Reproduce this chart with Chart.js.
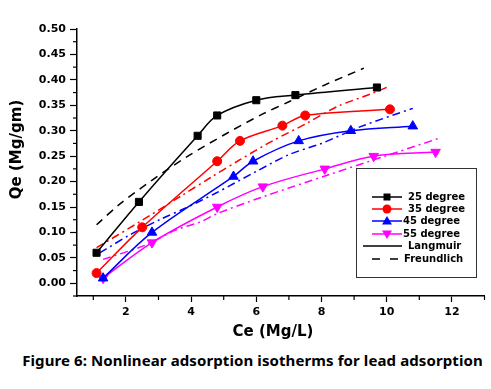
<!DOCTYPE html>
<html lang="en">
<head>
<meta charset="UTF-8" />
<title>Nonlinear adsorption isotherms</title>
<script src="https://cdn.jsdelivr.net/npm/chart.js"></script>
<style>
  body { margin: 0; background: #fff; }
  .wrap { position: relative; width: 491px; height: 389px; }
  #chart { position: absolute; left: 0; top: 0; }
  .caption {
    position: absolute; left: 7px; top: 350px; width: 491px;
    text-align: center; font: bold 15px "Noto Sans"; letter-spacing: 0.1px; color: #000;
  }
</style>
</head>
<body>
<div class="wrap">
  <canvas id="chart" width="491" height="345"></canvas>
  <div class="caption">Figure 6: Nonlinear adsorption isotherms for lead adsorption</div>
</div>

<script>
// measured points (Ce, Qe)
var ce25 = [1.1, 2.4, 4.2, 4.8, 6.0, 7.2, 9.7];
var qe25 = [0.06, 0.16, 0.29, 0.33, 0.36, 0.37, 0.385];
var ce35 = [1.1, 2.5, 4.8, 5.5, 6.8, 7.5, 10.1];
var qe35 = [0.02, 0.11, 0.24, 0.28, 0.31, 0.33, 0.342];
var ce45 = [1.3, 2.8, 5.3, 5.9, 7.3, 8.9, 10.8];
var qe45 = [0.01, 0.10, 0.21, 0.24, 0.28, 0.30, 0.309];
var ce55 = [1.3, 2.8, 4.8, 6.2, 8.1, 9.6, 11.5];
var qe55 = [0.01, 0.08, 0.15, 0.19, 0.225, 0.25, 0.258];

// Freundlich fit curves
var fx25 = [1.1, 1.8, 2.85, 3.9, 5.1, 6.2, 7.0, 8.1, 9.3];
var fy25 = [0.115, 0.155, 0.205, 0.25, 0.295, 0.333, 0.357, 0.39, 0.423];
var fx35 = [1.1, 2.4, 3.7, 4.6, 5.5, 6.5, 7.5, 8.5, 9.5, 10.1];
var fy35 = [0.07, 0.12, 0.172, 0.208, 0.243, 0.28, 0.313, 0.348, 0.372, 0.388];
var fx45 = [1.2, 2.2, 3.1, 3.8, 4.75, 6.0, 7.0, 8.0, 9.2, 10.8];
var fy45 = [0.06, 0.098, 0.127, 0.147, 0.177, 0.22, 0.253, 0.275, 0.308, 0.344];
var fx55 = [1.3, 2.6, 3.5, 4.3, 4.8, 6.2, 8.2, 9.9, 11.6];
var fy55 = [0.047, 0.075, 0.104, 0.121, 0.137, 0.17, 0.213, 0.249, 0.285];

var seriesLabels = ["25 degree", "35 degree", "45 degree", "55 degree"];
var seriesColors = ["#000000", "#ff0000", "#0000ff", "#ff00ff"];
var fitLabels = ["Langmuir", "Freundlich"];

function pts(xs, ys) {
  return xs.map(function (x, i) { return { x: x, y: ys[i] }; });
}

var tickFont = { family: "DejaVu Sans", weight: "bold", size: 11 };
var titleFont = { family: "DejaVu Sans", weight: "bold", size: 15 };

var markers = [
  { style: "rect", radius: 5, rotation: 0 },
  { style: "circle", radius: 4.5, rotation: 0 },
  { style: "triangle", radius: 5.5, rotation: 0 },
  { style: "triangle", radius: 5.5, rotation: 180 }
];

var measured = [[ce25, qe25], [ce35, qe35], [ce45, qe45], [ce55, qe55]];
var fits = [[fx25, fy25], [fx35, fy35], [fx45, fy45], [fx55, fy55]];

var datasets = [];
measured.forEach(function (m, i) {
  datasets.push({
    label: seriesLabels[i],
    data: pts(m[0], m[1]),
    borderColor: seriesColors[i],
    backgroundColor: seriesColors[i],
    borderWidth: 1.5,
    pointStyle: markers[i].style,
    pointRadius: markers[i].radius,
    pointRotation: markers[i].rotation,
    pointBorderWidth: 1,
    tension: 0.35
  });
});
fits.forEach(function (f, i) {
  datasets.push({
    label: "Freundlich " + seriesLabels[i],
    data: pts(f[0], f[1]),
    borderColor: seriesColors[i],
    borderWidth: 1.5,
    borderDash: i === 0 ? [8, 6] : [8, 4, 2, 4],
    pointRadius: 0,
    tension: 0.3
  });
});

// short minor ticks + the boxed legend
var extras = {
  id: "extras",
  afterDraw: function (chart) {
    var ctx = chart.ctx;
    var xs = chart.scales.x, ys = chart.scales.y;
    ctx.save();
    ctx.strokeStyle = "#000";
    ctx.lineWidth = 1.2;
    xs.ticks.forEach(function (t) {
      if (t.value % 2 !== 0) {
        var px = xs.getPixelForValue(t.value);
        ctx.beginPath();
        ctx.moveTo(px, ys.bottom);
        ctx.lineTo(px, ys.bottom + 4);
        ctx.stroke();
      }
    });
    ys.ticks.forEach(function (t) {
      if (Math.round(t.value * 1000) % 50 !== 0) {
        var py = ys.getPixelForValue(t.value);
        ctx.beginPath();
        ctx.moveTo(xs.left, py);
        ctx.lineTo(xs.left - 4, py);
        ctx.stroke();
      }
    });

    // legend box
    ctx.lineWidth = 1;
    ctx.strokeStyle = "#333";
    ctx.strokeRect(356.5, 168.5, 120, 109);
    ctx.font = "bold 10px 'DejaVu Sans'";
    ctx.textBaseline = "middle";
    ctx.fillStyle = "#000";
    var rows = [197, 209, 221, 234, 246, 259];
    seriesLabels.forEach(function (lab, i) {
      var y = rows[i];
      ctx.strokeStyle = seriesColors[i];
      ctx.fillStyle = seriesColors[i];
      ctx.lineWidth = 1.5;
      ctx.beginPath();
      ctx.moveTo(372, y);
      ctx.lineTo(402, y);
      ctx.stroke();
      var cx = 387;
      ctx.beginPath();
      if (i === 0) {
        ctx.rect(cx - 3.5, y - 3.5, 7, 7);
      } else if (i === 1) {
        ctx.arc(cx, y, 4.5, 0, Math.PI * 2);
      } else if (i === 2) {
        ctx.moveTo(cx, y - 5); ctx.lineTo(cx + 5, y + 3.5); ctx.lineTo(cx - 5, y + 3.5);
      } else {
        ctx.moveTo(cx, y + 5); ctx.lineTo(cx + 5, y - 3.5); ctx.lineTo(cx - 5, y - 3.5);
      }
      ctx.closePath();
      ctx.fill();
      ctx.fillStyle = "#000";
      ctx.fillText(lab, i < 2 ? 408 : 403, y);
    });
    ctx.strokeStyle = "#000";
    ctx.lineWidth = 1.5;
    ctx.beginPath();
    ctx.moveTo(363, rows[4]);
    ctx.lineTo(402, rows[4]);
    ctx.stroke();
    ctx.setLineDash([8, 10]);
    ctx.beginPath();
    ctx.moveTo(372, rows[5]);
    ctx.lineTo(402, rows[5]);
    ctx.stroke();
    ctx.setLineDash([]);
    ctx.fillText(fitLabels[0], 408, rows[4]);
    ctx.fillText(fitLabels[1], 404, rows[5]);
    ctx.restore();
  }
};

new Chart(document.getElementById("chart").getContext("2d"), {
  type: "line",
  data: { datasets: datasets },
  plugins: [extras],
  options: {
    responsive: false,
    animation: false,
    layout: { padding: { left: 0, right: 6, top: 29, bottom: 0 } },
    plugins: { legend: { display: false }, tooltip: { enabled: false } },
    scales: {
      x: {
        type: "linear",
        min: 0.5,
        max: 13,
        border: { color: "#000", width: 1.5 },
        grid: {
          drawOnChartArea: false,
          tickLength: 6,
          tickWidth: 1.2,
          tickColor: function (c) { return c.tick && c.tick.value % 2 === 0 ? "#000" : "rgba(0,0,0,0)"; }
        },
        ticks: {
          stepSize: 1,
          includeBounds: false,
          autoSkip: false,
          maxRotation: 0,
          padding: 4,
          color: "#000",
          font: tickFont,
          callback: function (v) { return v % 2 === 0 ? v : ""; }
        },
        // trailing spaces nudge the title left like the original
        title: { display: true, text: "Ce (Mg/L)\u00a0\u00a0\u00a0", color: "#000", font: titleFont, padding: { top: 0, bottom: 4 } },
        afterFit: function (s) { s.height = 49; }
      },
      y: {
        min: -0.025,
        max: 0.5,
        border: { color: "#000", width: 1.5 },
        grid: {
          drawOnChartArea: false,
          tickLength: 7,
          tickWidth: 1.2,
          tickColor: function (c) { return c.tick && Math.round(c.tick.value * 1000) % 50 === 0 ? "#000" : "rgba(0,0,0,0)"; }
        },
        ticks: {
          stepSize: 0.025,
          autoSkip: false,
          padding: 4,
          color: "#000",
          font: tickFont,
          callback: function (v) { return Math.round(v * 1000) % 50 === 0 ? v.toFixed(2) : ""; }
        },
        title: { display: true, text: "\u00a0\u00a0\u00a0\u00a0\u00a0Qe (Mg/gm)", color: "#000", font: titleFont, padding: { top: 8, bottom: 0 } },
        afterFit: function (s) { s.width = 77; }
      }
    }
  }
});
</script>
</body>
</html>
